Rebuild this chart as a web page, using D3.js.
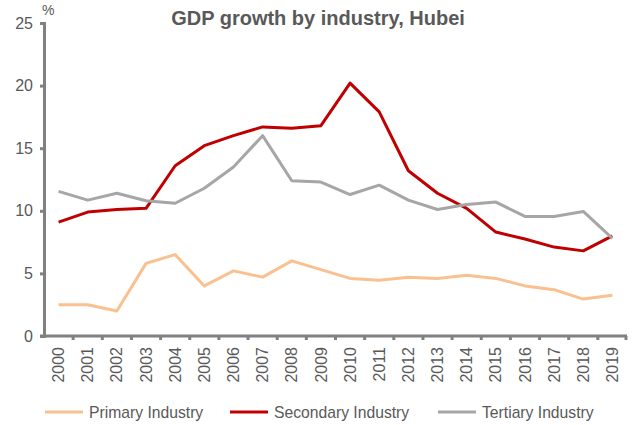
<!DOCTYPE html>
<html>
<head>
<meta charset="utf-8">
<script src="https://cdn.jsdelivr.net/npm/d3@7"></script>
<style>
  body { margin: 0; background: #fff; }
  text { font-family: "Liberation Sans", Arial, sans-serif; fill: #595959; }
</style>
</head>
<body>
<div id="chart"></div>
<script>
const years = ['2000','2001','2002','2003','2004','2005','2006','2007','2008','2009',
               '2010','2011','2012','2013','2014','2015','2016','2017','2018','2019'];
const primary = [2.5, 2.5, 2.0, 5.8, 6.5, 4.0, 5.2, 4.7, 6.0, 5.3,
                 4.6, 4.45, 4.7, 4.6, 4.85, 4.6, 4.0, 3.7, 2.95, 3.25];
const secondary = [9.1, 9.9, 10.1, 10.2, 13.6, 15.2, 16.0, 16.7, 16.6, 16.8,
                   20.2, 17.9, 13.2, 11.4, 10.2, 8.3, 7.75, 7.1, 6.8, 8.0];
const tertiary = [11.55, 10.85, 11.4, 10.8, 10.6, 11.8, 13.5, 16.0, 12.4, 12.3,
                  11.3, 12.05, 10.85, 10.1, 10.5, 10.7, 9.55, 9.55, 9.95, 7.8];
const yTicks = [0, 5, 10, 15, 20, 25];

const series = [
  { name: 'Primary Industry', values: primary, color: '#FAC090' },
  { name: 'Secondary Industry', values: secondary, color: '#C00000' },
  { name: 'Tertiary Industry', values: tertiary, color: '#A6A6A6' }
];

const width = 635, height = 425;
const plotLeft = 44, plotRight = 627, plotTop = 23, plotBottom = 336;
const axisColor = '#808080';

const svg = d3.select('#chart').append('svg')
  .attr('width', width)
  .attr('height', height);

const x = d3.scaleBand().domain(years).range([plotLeft, plotRight]);
const y = d3.scaleLinear().domain([0, 25]).range([plotBottom, plotTop]);

// title and unit
svg.append('text')
  .attr('x', 318).attr('y', 25)
  .attr('text-anchor', 'middle')
  .style('font-size', '20px')
  .style('font-weight', 'bold')
  .text('GDP growth by industry, Hubei');

svg.append('text')
  .attr('x', 42).attr('y', 15)
  .style('font-size', '14px')
  .text('%');

// y axis
const yAxis = svg.append('g')
  .attr('transform', `translate(${plotLeft},0)`)
  .call(d3.axisLeft(y).tickValues(yTicks).tickSize(4).tickPadding(7));
yAxis.select('.domain').attr('stroke', axisColor).attr('stroke-width', 3);
yAxis.selectAll('.tick line').attr('stroke', axisColor).attr('stroke-width', 3);
yAxis.selectAll('.tick text')
  .attr('fill', '#595959')
  .style('font-size', '16px')
  .style('font-family', '"Liberation Sans", Arial, sans-serif');

// x axis: ticks on band boundaries
const xAxis = svg.append('g').attr('transform', `translate(0,${plotBottom})`);
xAxis.append('line')
  .attr('x1', plotLeft - 4).attr('x2', plotRight)
  .attr('stroke', axisColor).attr('stroke-width', 3);
xAxis.selectAll('line.tk')
  .data(years.slice(1).concat(['end']))
  .join('line')
  .attr('class', 'tk')
  .attr('x1', d => d === 'end' ? plotRight - 1 : x(d))
  .attr('x2', d => d === 'end' ? plotRight - 1 : x(d))
  .attr('y1', 0).attr('y2', 4)
  .attr('stroke', axisColor).attr('stroke-width', 3);
xAxis.selectAll('text')
  .data(years)
  .join('text')
  .attr('transform', d => `translate(${x(d) + x.bandwidth() / 2},11) rotate(-90)`)
  .attr('text-anchor', 'end')
  .attr('dy', '0.35em')
  .style('font-size', '16px')
  .text(d => d);

// lines
const line = d3.line()
  .x((d, i) => x(years[i]) + x.bandwidth() / 2)
  .y(d => y(d));

svg.selectAll('path.series')
  .data(series)
  .join('path')
  .attr('class', 'series')
  .attr('fill', 'none')
  .attr('stroke', d => d.color)
  .attr('stroke-width', 3)
  .attr('stroke-linejoin', 'round')
  .attr('d', d => line(d.values));

// legend
const legendX = [45, 230, 438];
const legend = svg.selectAll('g.legend')
  .data(series)
  .join('g')
  .attr('class', 'legend')
  .attr('transform', (d, i) => `translate(${legendX[i]},412)`);
legend.append('line')
  .attr('x1', 0).attr('x2', 38)
  .attr('stroke', d => d.color)
  .attr('stroke-width', 3);
legend.append('text')
  .attr('x', 44)
  .attr('dy', '0.35em')
  .style('font-size', '15.7px')
  .text(d => d.name);
</script>
</body>
</html>
